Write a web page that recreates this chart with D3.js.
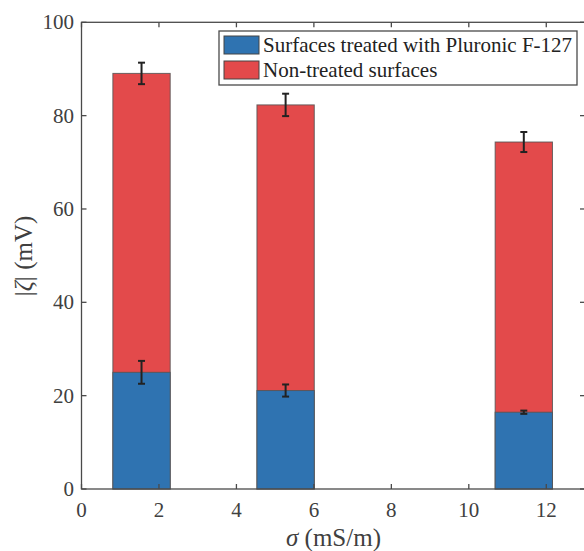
<!DOCTYPE html>
<html><head><meta charset="utf-8">
<script src="https://cdn.jsdelivr.net/npm/d3@7"></script>
</head><body style="margin:0;background:#fff;overflow:hidden">
<script>
const sigma = [1.55, 5.27, 11.42];
const treated = [25.0, 21.1, 16.45];
const treatedErr = [2.45, 1.3, 0.35];
const nonTreated = [89.05, 82.3, 74.35];
const nonTreatedErr = [2.3, 2.4, 2.15];
const xTicks = [0, 2, 4, 6, 8, 10, 12];
const yTicks = [0, 20, 40, 60, 80, 100];
const legendLabels = ["Surfaces treated with Pluronic F-127", "Non-treated surfaces"];
const barWidth = 1.48;

const W = 584, H = 551;
const m = {l: 81.5, t: 22.3, r: 585, b: 489};
const FONT = '"Liberation Serif"';
const axisColor = "#4a4a4a", textColor = "#404040";
const blue = "#2f73b1", red = "#e34a4b";

const svg = d3.select("body").append("svg").attr("width", W).attr("height", H).style("display", "block");
const x = d3.scaleLinear().domain([0, 13]).range([m.l, m.r]);
const y = d3.scaleLinear().domain([0, 100]).range([m.b, m.t]);

function drawBars(vals, color) {
  svg.append("g").selectAll("rect").data(vals).join("rect")
    .attr("x", (d, i) => x(sigma[i] - barWidth / 2))
    .attr("width", x(barWidth) - x(0))
    .attr("y", d => y(d))
    .attr("height", d => y(0) - y(d))
    .attr("fill", color)
    .attr("stroke", "#555").attr("stroke-opacity", 0.85).attr("stroke-width", 1);
}
drawBars(nonTreated, red);
drawBars(treated, blue);

function drawErr(vals, errs) {
  const g = svg.append("g").attr("stroke", "#222").attr("stroke-width", 2);
  vals.forEach((v, i) => {
    const cx = x(sigma[i]);
    g.append("line").attr("x1", cx).attr("x2", cx).attr("y1", y(v - errs[i])).attr("y2", y(v + errs[i]));
    [v - errs[i], v + errs[i]].forEach(e =>
      g.append("line").attr("x1", cx - 3.5).attr("x2", cx + 3.5).attr("y1", y(e)).attr("y2", y(e)));
  });
}
drawErr(nonTreated, nonTreatedErr);
drawErr(treated, treatedErr);

const tl = 5;
const ax = svg.append("g").attr("stroke", axisColor).attr("stroke-width", 1.3);
ax.append("rect").attr("x", m.l).attr("y", m.t).attr("width", m.r - m.l).attr("height", m.b - m.t).attr("fill", "none");
xTicks.forEach(t => {
  ax.append("line").attr("x1", x(t)).attr("x2", x(t)).attr("y1", m.b).attr("y2", m.b - tl);
  ax.append("line").attr("x1", x(t)).attr("x2", x(t)).attr("y1", m.t).attr("y2", m.t + tl);
});
yTicks.forEach(t => {
  ax.append("line").attr("x1", m.l).attr("x2", m.l + tl).attr("y1", y(t)).attr("y2", y(t));
  ax.append("line").attr("x1", m.r).attr("x2", m.r - tl).attr("y1", y(t)).attr("y2", y(t));
});
function txt(sel, size, fill) {
  return sel.style("font-family", FONT).style("font-size", size + "px").attr("fill", fill);
}
txt(svg.append("g").selectAll("text").data(xTicks).join("text"), 21, textColor)
  .attr("x", d => x(d)).attr("y", 517).attr("text-anchor", "middle").text(d => d);
txt(svg.append("g").selectAll("text").data(yTicks).join("text"), 21, textColor)
  .attr("x", 74).attr("y", d => y(d) + 7).attr("text-anchor", "end").text(d => d);

const xl = txt(svg.append("text"), 25, textColor)
  .attr("x", 333.5).attr("y", 546).attr("text-anchor", "middle");
xl.append("tspan").style("font-style", "italic").text("σ");
xl.append("tspan").text(" (mS/m)");
const yl = txt(svg.append("text"), 25, textColor)
  .attr("transform", "translate(32,256) rotate(-90)").attr("text-anchor", "middle");
yl.append("tspan").text("|");
yl.append("tspan").style("font-style", "italic").text("ζ");
yl.append("tspan").text("| (mV)");

const lg = svg.append("g");
lg.append("rect").attr("x", 219).attr("y", 31).attr("width", 358).attr("height", 54)
  .attr("fill", "#fff").attr("stroke", axisColor).attr("stroke-width", 1.3);
[blue, red].forEach((c, i) => {
  lg.append("rect").attr("x", 224).attr("y", 36 + i * 25).attr("width", 35).attr("height", 18)
    .attr("fill", c).attr("stroke", "#444").attr("stroke-width", 1);
  txt(lg.append("text"), 21, "#222").attr("x", 263).attr("y", 52 + i * 25).text(legendLabels[i]);
});
</script>
</body></html>
